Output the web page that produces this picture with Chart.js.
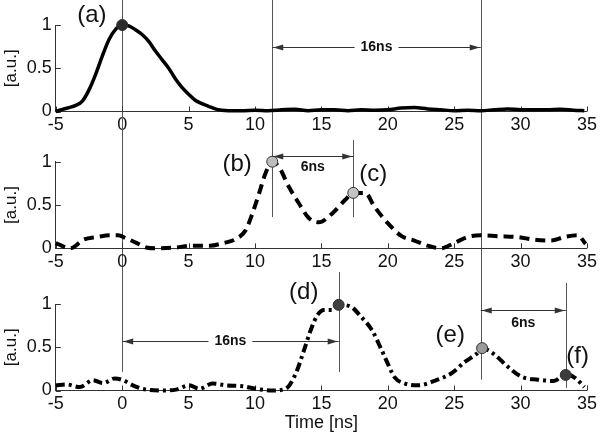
<!DOCTYPE html>
<html>
<head>
<meta charset="utf-8">
<script src="https://cdn.jsdelivr.net/npm/chart.js@4.4.0/dist/chart.umd.min.js"></script>
<style>
  html, body { margin: 0; padding: 0; background: #fff; }
  #wrap { position: relative; width: 600px; height: 438px; }
  #wrap canvas { position: absolute; left: 0; top: 0; }
</style>
</head>
<body>
<div id="wrap">
  <canvas id="c1" width="600" height="438"></canvas>
  <canvas id="c2" width="600" height="438"></canvas>
  <canvas id="c3" width="600" height="438"></canvas>
</div>
<script>
// --- data (time in ns, amplitude in a.u.) ---
const timeA = [-5, -4.5, -4, -3.5, -3, -2.5, -2, -1.5, -1, -0.5, 0, 0.5, 1, 1.5, 2, 2.5, 3, 3.5, 4, 4.5,
  5, 5.5, 6, 6.5, 7, 7.5, 8, 9, 10, 11, 12, 13, 14, 15, 16, 17, 18, 19, 20, 21, 22, 23, 24, 25,
  26, 27, 28, 29, 30, 31, 32, 33, 34, 34.8];
const sigA = [0, 0.025, 0.045, 0.07, 0.12, 0.25, 0.43, 0.64, 0.83, 0.95, 1.0, 0.99, 0.945, 0.89, 0.81, 0.7,
  0.6, 0.5, 0.38, 0.28, 0.2, 0.13, 0.09, 0.06, 0.03, 0.015, 0.01, 0.01, 0.015, 0.01, 0.02, 0.025,
  0.01, 0.02, 0.02, 0.01, 0.02, 0.015, 0.02, 0.04, 0.045, 0.03, 0.02, 0.01, 0.015, 0.01, 0.02,
  0.03, 0.02, 0.02, 0.02, 0.025, 0.015, 0.01];

const timeB = [-5, -4.4, -3.9, -2.9, -1.9, -0.9, -0.3, 0.3, 1.1, 1.8, 2.6, 4.1, 5.1, 6.6, 7.6, 8.6, 9.3,
  9.8, 10.3, 10.8, 11.3, 11.8, 12.55, 13.3, 14.05, 14.8, 15.8, 16.8, 17.4, 18.3, 19, 20, 21.05,
  22, 23, 24, 25, 26, 27, 28.3, 29.8, 31, 32.3, 33.3, 34.3, 34.9];
const sigB = [0.06, 0.02, 0, 0.1, 0.13, 0.15, 0.15, 0.115, 0.06, 0.01, 0, 0.01, 0.03, 0.03, 0.06, 0.11, 0.21,
  0.4, 0.63, 0.87, 1.0, 0.94, 0.71, 0.52, 0.35, 0.3, 0.4, 0.56, 0.64, 0.64, 0.48, 0.29, 0.14,
  0.09, 0.03, 0, 0.06, 0.13, 0.15, 0.14, 0.13, 0.1, 0.09, 0.13, 0.15, 0.05];

const timeC = [-5, -4.2, -3.2, -2.2, -1.45, -0.55, 0.05, 0.8, 1.8, 3.05, 4.05, 5.05, 5.8, 6.8, 7.8, 9.05,
  10.05, 11.3, 12.3, 13.05, 13.7, 14.2, 14.7, 15.2, 15.8, 16.3, 17.2, 18, 18.8, 19.5, 20, 20.5,
  21.3, 22.3, 23.5, 24.8, 25.8, 26.65, 27.15, 28, 29, 30.05, 31.3, 32.5, 33.4, 34.15, 34.8];
const sigC = [0.06, 0.07, 0.04, 0.12, 0.085, 0.14, 0.12, 0.06, 0.01, 0, 0.01, 0.06, 0.02, 0.08, 0.06, 0.05,
  0.02, 0, 0.02, 0.19, 0.47, 0.7, 0.87, 0.93, 0.93, 0.99, 0.97, 0.85, 0.7, 0.48, 0.31, 0.155,
  0.08, 0.06, 0.11, 0.2, 0.33, 0.42, 0.485, 0.42, 0.28, 0.16, 0.125, 0.11, 0.19, 0.14, 0.04];

// marked points (a)..(f)
const markTimeA = [0];
const markValA = [1.0];
const markTimeB = [11.3, 17.4];
const markValB = [1.0, 0.64];
const markTimeC = [16.3, 27.1, 33.4];
const markValC = [0.99, 0.49, 0.18];

const xTickStep = 5;
const yTickStep = 0.5;

// --- styling ---
const FONT = "'Liberation Sans', Arial, Helvetica, sans-serif";
const INK = '#111';
const AXIS = '#333';
const GUIDE = '#555';

function pts(xs, ys) {
  return xs.map((x, i) => ({ x, y: ys[i] }));
}

function arrowHead(ctx, x, y, dir) {
  ctx.beginPath();
  ctx.moveTo(x, y);
  ctx.lineTo(x - dir * 10, y - 3);
  ctx.lineTo(x - dir * 10, y + 3);
  ctx.closePath();
  ctx.fill();
}

const annotate = {
  id: 'annotate',
  beforeDatasetsDraw(chart, args, opts) {
    const { ctx, chartArea: area, scales: { x, y } } = chart;
    ctx.save();
    ctx.strokeStyle = GUIDE;
    ctx.lineWidth = 1;
    (opts.vlines || []).forEach(l => {
      const px = Math.round(x.getPixelForValue(l.x)) + 0.5;
      ctx.beginPath();
      ctx.moveTo(px, y.getPixelForValue(l.from));
      ctx.lineTo(px, y.getPixelForValue(l.to));
      ctx.stroke();
    });
    // MATLAB style ticks pointing into the plot
    ctx.strokeStyle = AXIS;
    x.ticks.forEach(t => {
      const px = Math.round(x.getPixelForValue(t.value)) + 0.5;
      ctx.beginPath();
      ctx.moveTo(px, area.bottom);
      ctx.lineTo(px, area.bottom - 5);
      ctx.stroke();
    });
    y.ticks.forEach(t => {
      const py = Math.round(y.getPixelForValue(t.value)) + 0.5;
      ctx.beginPath();
      ctx.moveTo(area.left, py);
      ctx.lineTo(area.left + 5, py);
      ctx.stroke();
    });
    ctx.restore();
  },
  afterDraw(chart, args, opts) {
    const { ctx, scales: { x, y } } = chart;
    ctx.save();
    ctx.strokeStyle = '#333';
    ctx.fillStyle = '#333';
    ctx.lineWidth = 1;
    ctx.textAlign = 'center';
    ctx.textBaseline = 'middle';
    (opts.arrows || []).forEach(a => {
      const x1 = x.getPixelForValue(a.from);
      const x2 = x.getPixelForValue(a.to);
      const py = Math.round(y.getPixelForValue(a.y)) + 0.5;
      ctx.font = 'bold 14px ' + FONT;
      const w = ctx.measureText(a.text).width;
      const cx = (x1 + x2) / 2;
      ctx.beginPath();
      if (a.labelY === undefined) {
        ctx.moveTo(x1, py); ctx.lineTo(cx - w / 2 - 6, py);
        ctx.moveTo(cx + w / 2 + 6, py); ctx.lineTo(x2, py);
      } else {
        ctx.moveTo(x1, py); ctx.lineTo(x2, py);
      }
      ctx.stroke();
      arrowHead(ctx, x1 + 1, py, -1);
      arrowHead(ctx, x2 - 1, py, 1);
      ctx.fillStyle = INK;
      const ty = a.labelY === undefined ? py : y.getPixelForValue(a.labelY);
      ctx.fillText(a.text, cx, ty);
      ctx.fillStyle = '#333';
    });
    ctx.fillStyle = INK;
    ctx.font = '24px ' + FONT;
    (opts.labels || []).forEach(l => {
      ctx.fillText(l.text, x.getPixelForValue(l.x), y.getPixelForValue(l.y));
    });
    ctx.restore();
  }
};

function makePanel(id, cfg) {
  return new Chart(document.getElementById(id), {
    type: 'scatter',
    data: {
      datasets: [
        {
          data: pts(cfg.time, cfg.sig),
          order: 2,
          showLine: true,
          borderColor: '#000',
          borderWidth: cfg.width,
          borderDash: cfg.dash,
          borderCapStyle: 'butt',
          cubicInterpolationMode: 'monotone',
          pointRadius: 0,
          clip: false
        },
        {
          data: pts(cfg.markTime, cfg.markVal),
          order: 1,
          showLine: false,
          pointRadius: 5.5,
          pointBackgroundColor: cfg.markColors,
          pointBorderColor: '#333',
          pointBorderWidth: 1,
          clip: false
        }
      ]
    },
    options: {
      responsive: false,
      animation: false,
      events: [],
      layout: { padding: { top: cfg.padTop, bottom: cfg.padBottom, left: 0, right: 10.7 } },
      plugins: {
        legend: { display: false },
        tooltip: { enabled: false },
        annotate: cfg.notes
      },
      scales: {
        x: {
          type: 'linear',
          min: -5,
          max: 35,
          afterFit: s => { s.height = cfg.xAxisHeight; },
          ticks: { stepSize: xTickStep, padding: 3, color: INK, font: { family: FONT, size: 18 } },
          grid: { drawOnChartArea: false, drawTicks: false },
          border: { display: true, color: AXIS, width: 1 },
          title: {
            display: !!cfg.xTitle,
            text: cfg.xTitle || '',
            color: INK,
            font: { family: FONT, size: 18 },
            padding: { top: 0, bottom: 3.5 }
          }
        },
        y: {
          min: 0,
          max: 1,
          afterFit: s => { s.width = 55.8; },
          ticks: {
            stepSize: yTickStep, padding: 4, color: INK, font: { family: FONT, size: 18 },
            callback: v => String(+v.toFixed(2))
          },
          grid: { drawOnChartArea: false, drawTicks: false },
          border: { display: true, color: AXIS, width: 1 },
          title: {
            display: true,
            text: '[a.u.]',
            color: INK,
            font: { family: FONT, size: 17 },
            padding: { top: 1, bottom: 0 }
          }
        }
      }
    },
    plugins: [annotate]
  });
}

makePanel('c1', {
  time: timeA, sig: sigA, width: 3.5, dash: [],
  markTime: markTimeA, markVal: markValA, markColors: ['#2b2b2b'],
  padTop: 25, padBottom: 296.5, xAxisHeight: 30,
  notes: {
    vlines: [
      { x: 0, from: 1.29, to: -3.01 },
      { x: 11.3, from: 1.29, to: -1.22 },
      { x: 27.0, from: 1.29, to: -3.1 }
    ],
    arrows: [{ from: 11.3, to: 27.0, y: 0.746, text: '16ns' }],
    labels: [{ x: -2.28, y: 1.116, text: '(a)' }]
  }
});

makePanel('c2', {
  time: timeB, sig: sigB, width: 4, dash: [10, 6],
  markTime: markTimeB, markVal: markValB, markColors: ['#bdbdbd', '#c4c4c4'],
  padTop: 161.7, padBottom: 159.7, xAxisHeight: 30,
  notes: {
    vlines: [{ x: 17.4, from: 1.25, to: 0.36 }],
    arrows: [{ from: 11.3, to: 17.4, y: 1.066, labelY: 0.94, text: '6ns' }],
    labels: [
      { x: 8.65, y: 0.973, text: '(b)' },
      { x: 18.9, y: 0.858, text: '(c)' }
    ]
  }
});

makePanel('c3', {
  time: timeC, sig: sigC, width: 4, dash: [9, 4, 3, 4],
  markTime: markTimeC, markVal: markValC, markColors: ['#404040', '#9a9a9a', '#3c3c3c'],
  padTop: 304, padBottom: 0.5, xAxisHeight: 47, xTitle: 'Time [ns]',
  notes: {
    vlines: [
      { x: 16.3, from: 1.37, to: 0.214 },
      { x: 33.4, from: 1.243, to: 0.03 }
    ],
    arrows: [
      { from: 0, to: 16.3, y: 0.572, text: '16ns' },
      { from: 27.0, to: 33.4, y: 0.93, labelY: 0.78, text: '6ns' }
    ],
    labels: [
      { x: 13.67, y: 1.14, text: '(d)' },
      { x: 24.7, y: 0.64, text: '(e)' },
      { x: 34.3, y: 0.40, text: '(f)' }
    ]
  }
});
</script>
</body>
</html>
